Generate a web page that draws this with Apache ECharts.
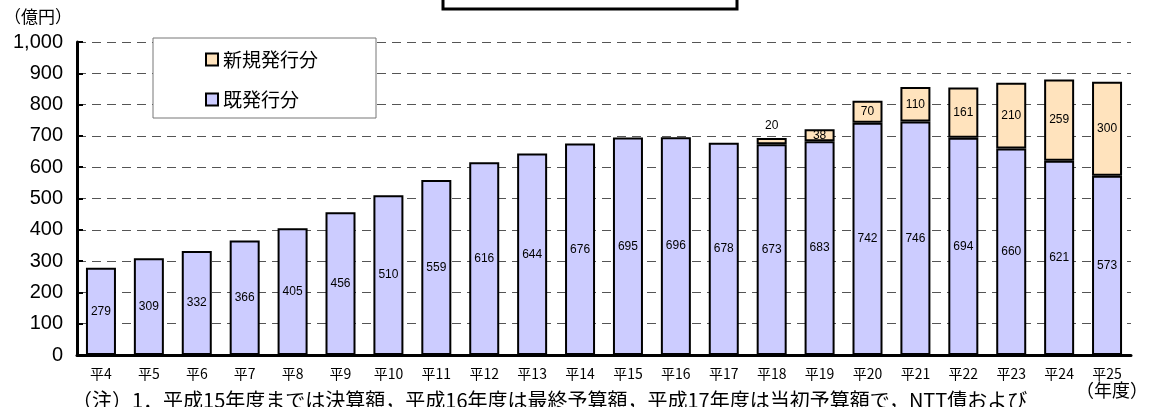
<!DOCTYPE html>
<html>
<head>
<meta charset="utf-8">
<script src="https://cdn.jsdelivr.net/npm/echarts@6/dist/echarts.min.js"></script>
<style>
  html, body { margin: 0; padding: 0; background: #fff; }
  #chart { width: 1149px; height: 407px; }
</style>
</head>
<body>
<div id="chart"></div>
<script>
// Fiscal years (Heisei) on the category axis
const years = ['平4','平5','平6','平7','平8','平9','平10','平11','平12','平13','平14',
               '平15','平16','平17','平18','平19','平20','平21','平22','平23','平24','平25'];

// Previously issued portion (億円)
const existingIssue = [279, 309, 332, 366, 405, 456, 510, 559, 616, 644, 676,
                       695, 696, 678, 673, 683, 742, 746, 694, 660, 621, 573];

// Newly issued portion (億円); none before 平18
const newIssue = [null, null, null, null, null, null, null, null, null, null, null,
                  null, null, null, 20, 38, 70, 110, 161, 210, 259, 300];

const seriesNames = ['新規発行分', '既発行分'];
const yTicks = { min: 0, max: 1000, step: 100 };

const labelFont = '"Liberation Sans Narrow", "Liberation Sans", Arial, sans-serif';
const jpFont = '"Noto Sans CJK JP", "Noto Sans", sans-serif';

// Values too small to hold their own label get it above the bar
const newData = newIssue.map(v => (v !== null && v < 30)
  ? { value: v, label: { position: 'top', distance: 6 } }
  : v);

const chart = echarts.init(document.getElementById('chart'), null, { renderer: 'canvas' });

chart.setOption({
  animation: false,
  backgroundColor: '#ffffff',
  grid: { left: 77, right: 18, top: 42, bottom: 52, containLabel: false },
  legend: {
    data: seriesNames,
    orient: 'vertical',
    left: 153,
    top: 38,
    padding: [12, 58, 9, 52],
    itemGap: 21,
    itemWidth: 12,
    itemHeight: 12,
    icon: 'rect',
    backgroundColor: '#ffffff',
    borderColor: '#777777',
    borderWidth: 1,
    borderRadius: 0,
    itemStyle: { borderColor: '#000', borderWidth: 2 },
    textStyle: { fontFamily: jpFont, fontSize: 19, color: '#000' },
    z: 10
  },
  xAxis: {
    type: 'category',
    data: years,
    axisLine: { lineStyle: { color: '#000', width: 3 } },
    axisTick: { show: false },
    axisLabel: { fontFamily: jpFont, fontSize: 14, color: '#000', margin: 12, interval: 0 }
  },
  yAxis: {
    type: 'value',
    min: yTicks.min,
    max: yTicks.max,
    interval: yTicks.step,
    axisLine: { show: true, lineStyle: { color: '#000', width: 3 } },
    axisTick: { show: true, inside: true, length: 6, lineStyle: { color: '#000', width: 2 } },
    axisLabel: {
      fontFamily: '"Liberation Sans", Arial, sans-serif',
      fontSize: 20,
      color: '#000',
      margin: 14,
      formatter: v => v.toLocaleString('en-US')
    },
    splitLine: { show: true, lineStyle: { color: '#555', width: 1, type: [9, 6] } }
  },
  series: [
    {
      name: '既発行分',
      type: 'bar',
      stack: 'total',
      data: existingIssue,
      barWidth: 30,
      itemStyle: { color: '#CCCCFF', borderColor: '#000', borderWidth: 2 },
      label: { show: true, position: 'inside', color: '#000', fontSize: 12, fontFamily: labelFont }
    },
    {
      name: '新規発行分',
      type: 'bar',
      stack: 'total',
      data: newData,
      barWidth: 30,
      itemStyle: { color: '#FFE3BD', borderColor: '#000', borderWidth: 2 },
      label: { show: true, position: 'inside', color: '#000', fontSize: 12, fontFamily: labelFont }
    }
  ],
  graphic: [
    // Title frame at the top edge
    { type: 'rect', shape: { x: 443, y: -20, width: 294, height: 29 },
      style: { fill: '#fff', stroke: '#000', lineWidth: 3 } },
    // Unit
    { type: 'text', left: 4, top: 8,
      style: { text: '（億円）', font: '17px ' + jpFont, fill: '#000' } },
    // Year caption
    { type: 'text', left: 1076, top: 381,
      style: { text: '（年度）', font: '18px ' + jpFont, fill: '#000' } },
    // Footnote
    { type: 'text', left: 72, top: 390,
      style: { text: '（注）1．平成15年度までは決算額，平成16年度は最終予算額，平成17年度は当初予算額で，NTT債および',
               font: '20px ' + jpFont, fill: '#000' } }
  ]
});
</script>
</body>
</html>
